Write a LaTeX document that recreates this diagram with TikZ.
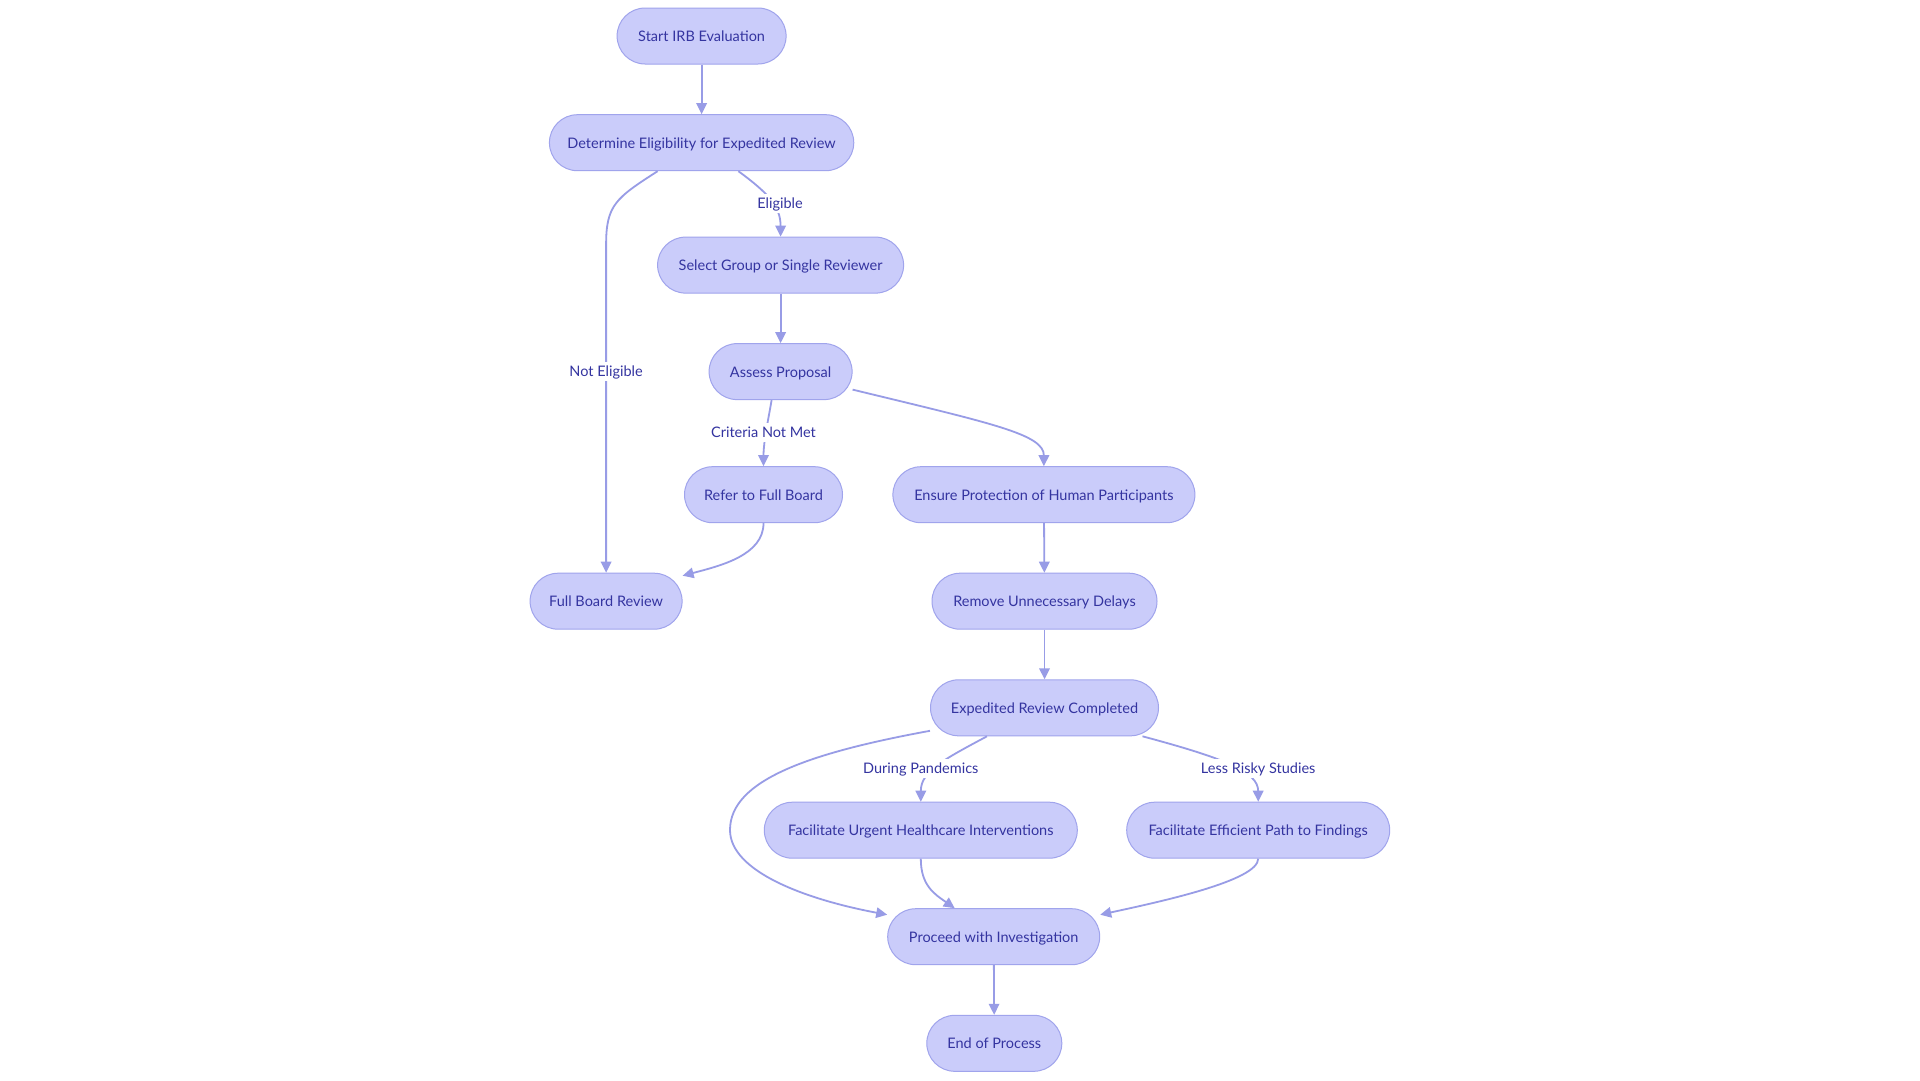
\documentclass[tikz,border=0pt]{standalone}
\usepackage{fontspec}
\setmainfont{Lato}
\usetikzlibrary{arrows.meta}
\definecolor{nodefill}{RGB}{202,204,250}
\definecolor{nodedraw}{RGB}{160,164,236}
\definecolor{edgecol}{RGB}{152,156,230}
\definecolor{txtcol}{RGB}{52,52,160}
\begin{document}
\begin{tikzpicture}[x=1pt,y=-1pt,
  box/.style={draw=nodedraw, fill=nodefill, line width=1pt, rounded corners=28pt,
    minimum height=56pt, inner xsep=18pt, text height=14pt, text depth=3pt,
    text=txtcol, font=\fontsize{14.5}{17}\selectfont},
  edge/.style={draw=edgecol, line width=1.8pt, -{Triangle[length=11pt,width=10.5pt]}},
  elabel/.style={fill=white, text=txtcol, inner sep=2pt, text height=12pt, text depth=3pt,
    font=\fontsize{14.5}{17}\selectfont}]
\useasboundingbox (0,0) rectangle (1920,1080);
\fill[white] (0,0) rectangle (1920,1080);

\node[box, minimum width=169pt] (start) at (701.6,36) {Start IRB Evaluation};
\node[box, minimum width=304pt] (det) at (701.6,142.7) {Determine Eligibility for Expedited Review};
\node[box, minimum width=246pt] (sel) at (780.6,265.1) {Select Group or Single Reviewer};
\node[box, minimum width=143pt] (ass) at (780.6,371.6) {Assess Proposal};
\node[box, minimum width=158pt] (ref) at (763.5,494.7) {Refer to Full Board};
\node[box, minimum width=302pt] (ens) at (1043.9,494.7) {Ensure Protection of Human Participants};
\node[box, minimum width=152pt] (fbr) at (606.1,601.2) {Full Board Review};
\node[box, minimum width=225pt] (rem) at (1044.5,601.2) {Remove Unnecessary Delays};
\node[box, minimum width=228pt] (exp) at (1044.5,707.8) {Expedited Review Completed};
\node[box, minimum width=313pt] (urg) at (920.8,830.2) {Facilitate Urgent Healthcare Interventions};
\node[box, minimum width=263pt] (eff) at (1258.2,830.2) {Facilitate Efficient Path to Findings};
\node[box, minimum width=212pt] (pro) at (993.7,936.7) {Proceed with Investigation};
\node[box, minimum width=135pt] (end) at (994.3,1043.3) {End of Process};

\draw[edge] (start) -- (det);
\draw[edge] ([xshift=36.8pt]det.south) .. controls +(30,22) and +(0,-30) .. (sel.north)
  node[elabel] at (780,203.5) {Eligible};
\draw[edge] ([xshift=-44pt]det.south) .. controls +(-42,27) and +(0,-40) .. (606.1,245) -- (fbr.north)
  node[elabel] at (606.1,371.5) {Not Eligible};
\draw[edge] (sel) -- (ass);
\draw[edge] ([xshift=-9pt]ass.south) .. controls +(-3,18) and +(0,-25) .. (ref.north)
  node[elabel] at (763.5,432.5) {Criteria Not Met};
\draw[edge] ([yshift=-18pt]ass.east) .. controls +(140,34) and +(0,-32) .. (ens.north);
\draw[edge] (ref.south) .. controls +(0,32) and +(38,-10) .. ([yshift=-3pt]fbr.north east);
\draw[edge] (ens) -- (rem);
\draw[edge] (rem) -- (exp);
\draw[edge] ([xshift=-57.5pt]exp.south) .. controls +(-45,24) and +(0,-30) .. (urg.north)
  node[elabel] at (920.8,768.5) {During Pandemics};
\draw[edge] ([xshift=98pt]exp.south) .. controls +(82,22) and +(0,-30) .. (eff.north)
  node[elabel] at (1258.2,768.5) {Less Risky Studies};
\draw[edge] ([yshift=-23pt]exp.west) .. controls +(-120,22) and +(0,-50) .. (730,830)
  .. controls +(0,42) and +(-80,-15) .. ([yshift=22pt]pro.west);
\draw[edge] (urg.south) .. controls +(0,27) and +(-20,-14) .. ([xshift=-39pt]pro.north);
\draw[edge] (eff.south) .. controls +(0,22) and +(60,-13) .. ([yshift=22pt]pro.east);
\draw[edge] (pro) -- (end);
\end{tikzpicture}
\end{document}
